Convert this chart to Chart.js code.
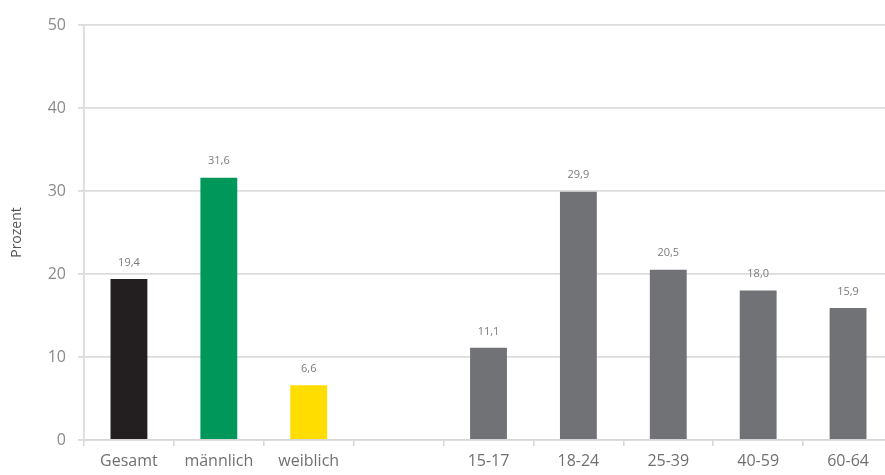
<!DOCTYPE html>
<html>
<head>
<meta charset="utf-8">
<script src="https://cdn.jsdelivr.net/npm/chart.js@4/dist/chart.umd.min.js"></script>
<style>
  html, body { margin: 0; padding: 0; background: #ffffff; overflow: hidden; }
  #wrap { position: relative; width: 893px; height: 475px; }
</style>
</head>
<body>
<div id="wrap"><canvas id="c"></canvas></div>
<script>
const categories = ["Gesamt", "männlich", "weiblich", "", "15-17", "18-24", "25-39", "40-59", "60-64"];
const values = [19.4, 31.6, 6.6, null, 11.1, 29.9, 20.5, 18.0, 15.9];
const barColors = ["#231f20", "#00985a", "#ffdd00", "#717275", "#717275", "#717275", "#717275", "#717275", "#717275"];
const yTicks = [0, 10, 20, 30, 40, 50];
const yTitle = "Prozent";

const FONT = "'Open Sans', 'DejaVu Sans', sans-serif";

const valueLabels = {
  id: 'valueLabels',
  afterDatasetsDraw(chart) {
    const ctx = chart.ctx;
    const meta = chart.getDatasetMeta(0);
    ctx.save();
    ctx.font = "11px " + FONT;
    ctx.fillStyle = "#7a7a7a";
    ctx.textAlign = "center";
    ctx.textBaseline = "bottom";
    meta.data.forEach((bar, i) => {
      const v = values[i];
      if (v === null || v === undefined) return;
      const txt = v.toFixed(1).replace('.', ',');
      ctx.fillText(txt, bar.x, bar.y - 11);
    });
    ctx.restore();
  }
};

new Chart(document.getElementById('c'), {
  type: 'bar',
  data: {
    labels: categories,
    datasets: [{
      data: values,
      backgroundColor: barColors,
      borderWidth: 0,
      barPercentage: 0.41,
      categoryPercentage: 1.0
    }]
  },
  options: {
    responsive: true,
    maintainAspectRatio: false,
    animation: false,
    layout: { padding: { top: 25, right: 0, left: 0, bottom: 0 } },
    plugins: {
      legend: { display: false },
      tooltip: { enabled: false }
    },
    scales: {
      x: {
        offset: true,
        grid: {
          offset: true,
          drawOnChartArea: false,
          drawTicks: true,
          tickLength: 6,
          color: "#d6d6d6",
          lineWidth: 1.5
        },
        border: { display: true, color: "#d6d6d6", width: 1.5 },
        ticks: {
          font: { family: FONT, size: 16 },
          color: "#707070",
          padding: 6,
          maxRotation: 0,
          autoSkip: false
        },
        afterFit(scale) { scale.height = 35; }
      },
      y: {
        min: 0,
        max: 50,
        afterBuildTicks(scale) { scale.ticks = yTicks.map(v => ({ value: v })); },
        grid: {
          color: "#dcdcdc",
          lineWidth: 1.8,
          drawTicks: true,
          tickLength: 6
        },
        border: { display: true, color: "#dcdcdc", width: 1.8 },
        ticks: {
          font: { family: FONT, size: 16 },
          color: "#8a8a8a",
          padding: 12
        },
        title: {
          display: true,
          text: yTitle,
          font: { family: FONT, size: 14 },
          color: "#555555",
          padding: { top: 9, bottom: 0 }
        },
        afterFit(scale) { scale.width = 84; }
      }
    }
  },
  plugins: [valueLabels]
});
</script>
</body>
</html>
